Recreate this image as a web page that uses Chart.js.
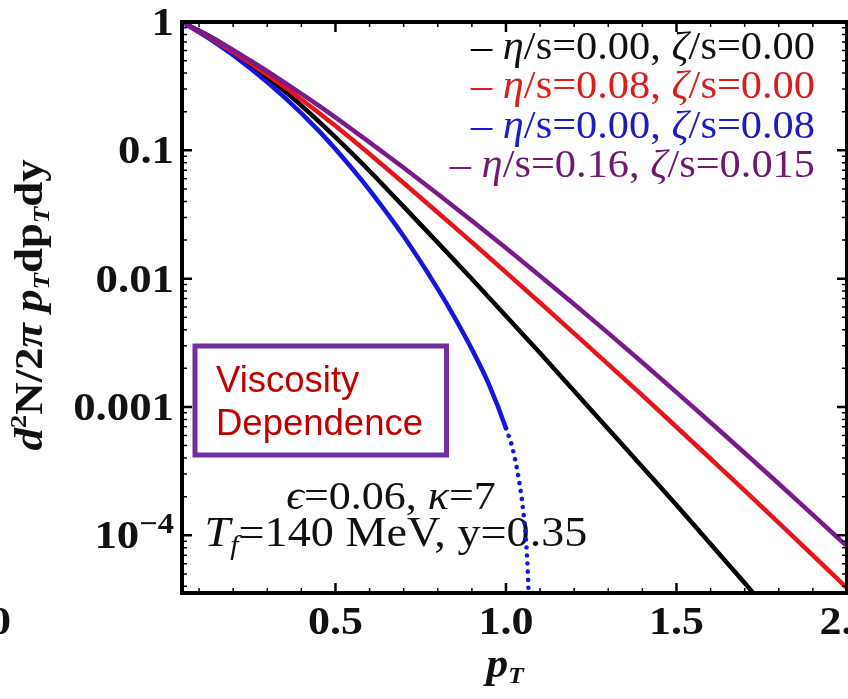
<!DOCTYPE html>
<html>
<head>
<meta charset="utf-8">
<script src="https://cdn.jsdelivr.net/npm/chart.js@4.4.1/dist/chart.umd.min.js"></script>
<style>
  html, body { margin: 0; padding: 0; overflow: hidden; background: #fff; }
  #wrap { position: relative; width: 900px; height: 699px; }
</style>
</head>
<body>
<div id="wrap"><canvas id="chart" width="900" height="699"></canvas></div>
<script>
const ptMain = [0.05, 0.15, 0.25, 0.35, 0.45, 0.55, 0.6, 0.7, 0.8, 0.9, 1.0, 1.1, 1.2, 1.3, 1.4, 1.5, 1.6, 1.7, 1.8, 1.9, 2.0];
const ptBlack = [0.05, 0.15, 0.25, 0.35, 0.45, 0.55, 0.6, 0.7, 0.8, 0.9, 1.0, 1.1, 1.2, 1.3, 1.4, 1.5, 1.6, 1.7, 1.75];
const ptBlue = [0.05, 0.15, 0.25, 0.35, 0.45, 0.55, 0.6, 0.7, 0.8, 0.85, 0.9, 0.95, 1.0, 1.02, 1.04, 1.05, 1.06, 1.065, 1.07];

// spectra d2N/2pi pT dpT dy
const specIdeal = [1.0, 0.724, 0.474, 0.291, 0.169, 0.0939, 0.0690, 0.0364, 0.0191, 0.00993, 0.00511, 0.00263, 0.00133, 0.000673, 0.000340, 0.000172, 8.54e-5, 4.24e-5, 2.96e-5];
const specShear = [1.0, 0.708, 0.479, 0.313, 0.197, 0.121, 0.0935, 0.0556, 0.0328, 0.0192, 0.0112, 0.00649, 0.00374, 0.00215, 0.00123, 0.000698, 0.000395, 0.000223, 0.000125, 6.98e-5, 3.88e-5];
const specBulk = [1.0, 0.684, 0.437, 0.260, 0.143, 0.0716, 0.0490, 0.0214, 0.00832, 0.00495, 0.00282, 0.00150, 0.000684, 0.000468, 0.000251, 0.000159, 8.32e-5, 4.47e-5, 1.58e-5];
const specBoth = [1.0, 0.724, 0.501, 0.339, 0.224, 0.1445, 0.1153, 0.0731, 0.0457, 0.0283, 0.0173, 0.0105, 0.00631, 0.00376, 0.00222, 0.00130, 0.000757, 0.000438, 0.000252, 0.000144, 8.22e-5];

const seriesLabels = ['η/s=0.00, ζ/s=0.00', 'η/s=0.08, ζ/s=0.00', 'η/s=0.00, ζ/s=0.08', 'η/s=0.16, ζ/s=0.015'];
const lineColors = ['#000000', '#e8141c', '#1515e0', '#781c8c'];
const textColors = ['#111111', '#d91e1e', '#1c1cc4', '#6e1a6e'];

const xTickValues = [0.5, 1.0, 1.5, 2.0];
const xTickLabels = ['0.5', '1.0', '1.5', '2.0'];
const yTickValues = [1, 0.1, 0.01, 0.001, 0.0001];
const yTickLabels = ['1', '0.1', '0.01', '0.001', '10^−4'];

const SERIF = '"Liberation Serif", "Times New Roman", serif';
const SANS = '"Liberation Sans", Arial, sans-serif';

function pts(xs, ys) {
  return ys.map((v, i) => ({ x: xs[i], y: v }));
}

// draw a row of differently styled text pieces: [text, font, dy, color]
function drawRuns(ctx, parts, x, y, align, sx) {
  let w = 0;
  parts.forEach(p => { ctx.font = p[1]; w += ctx.measureText(p[0]).width; });
  ctx.save();
  ctx.translate(x, y);
  ctx.scale(sx || 1, 1);
  ctx.textAlign = 'left';
  ctx.textBaseline = 'alphabetic';
  let cx = align === 'right' ? -w : align === 'center' ? -w / 2 : 0;
  parts.forEach(p => {
    ctx.font = p[1];
    if (p[3]) ctx.fillStyle = p[3];
    ctx.fillText(p[0], cx, p[2] || 0);
    cx += ctx.measureText(p[0]).width;
  });
  ctx.restore();
}

// greek letters italic, everything else upright
function greekRuns(str, size, color) {
  return str.split(/([ηζϵκ])/).filter(s => s).map(s =>
    [s, (/[ηζϵκ]/.test(s) ? 'italic ' : '') + size + 'px ' + SERIF, 0, color]);
}

const frame = {
  id: 'frame',
  beforeDatasetsDraw(chart) {
    const ctx = chart.ctx;
    drawRuns(ctx, greekRuns('ϵ=0.06, κ=7', 40, '#111'), 391, 509, 'center', 1.1);
    drawRuns(ctx, [
      ['T', 'italic 42px ' + SERIF, 0, '#111'],
      ['f', 'italic 27px ' + SERIF, 8, '#111'],
      ['=140 MeV, y=0.35', '42px ' + SERIF, 0, '#111']
    ], 396, 546, 'center', 1.1);
  },
  afterDatasetsDraw(chart) {
    const { ctx, chartArea: a, scales: { x, y } } = chart;
    ctx.save();
    ctx.strokeStyle = '#000';
    // minor / major ticks pointing inward on all four sides
    for (let k = 1; k <= 20; k++) {
      const v = k / 10;
      if (v < x.min || v > x.max) continue;
      const px = x.getPixelForValue(v);
      const major = k % 5 === 0;
      ctx.lineWidth = major ? 2.5 : 1.5;
      const len = major ? 10 : 5;
      ctx.beginPath();
      ctx.moveTo(px, a.bottom); ctx.lineTo(px, a.bottom - len);
      ctx.moveTo(px, a.top); ctx.lineTo(px, a.top + len);
      ctx.stroke();
    }
    for (let e = -5; e <= 0; e++) {
      for (let m = 1; m <= 9; m++) {
        const v = m * Math.pow(10, e);
        if (v < y.min || v > y.max) continue;
        const py = y.getPixelForValue(v);
        const major = m === 1;
        ctx.lineWidth = major ? 2.5 : 1.5;
        const len = major ? 10 : 5;
        ctx.beginPath();
        ctx.moveTo(a.left, py); ctx.lineTo(a.left + len, py);
        ctx.moveTo(a.right, py); ctx.lineTo(a.right - len, py);
        ctx.stroke();
      }
    }
    ctx.lineWidth = 4;
    ctx.strokeRect(a.left, a.top, a.right - a.left, a.bottom - a.top);
    ctx.restore();
  },
  afterDraw(chart) {
    const { ctx, scales: { x, y } } = chart;
    const tickFont = 'bold 40px ' + SERIF;

    // y tick labels
    yTickValues.forEach((v, i) => {
      const py = y.getPixelForValue(v);
      const lab = yTickLabels[i];
      if (lab.includes('^')) {
        const [b, s] = lab.split('^');
        drawRuns(ctx, [[b, tickFont, 0, '#111'], [s, 'bold 29px ' + SERIF, -15, '#111']], 174, py + 13, 'right', 1.12);
      } else {
        drawRuns(ctx, [[lab, tickFont, 0, '#111']], 174, py + 13, 'right', 1.12);
      }
    });
    // x tick labels
    xTickValues.forEach((v, i) => {
      drawRuns(ctx, [[xTickLabels[i], tickFont, 0, '#111']], x.getPixelForValue(v), 634, 'center', 1.1);
    });
    // piece of the neighbouring panel's tick label
    drawRuns(ctx, [['0', tickFont, 0, '#111']], 11, 634, 'right', 1.1);

    // axis titles
    drawRuns(ctx, [
      ['p', 'bold italic 40px ' + SERIF, 0, '#111'],
      ['T', 'bold italic 23px ' + SERIF, 6, '#111']
    ], 505, 677, 'center', 1.1);
    ctx.save();
    ctx.translate(42, 305);
    ctx.rotate(-Math.PI / 2);
    drawRuns(ctx, [
      ['d', 'bold italic 40px ' + SERIF, 0, '#111'],
      ['2', 'bold 24px ' + SERIF, -16, '#111'],
      ['N/2', 'bold 40px ' + SERIF, 0, '#111'],
      ['π', 'bold italic 40px ' + SERIF, 0, '#111'],
      [' p', 'bold italic 40px ' + SERIF, 0, '#111'],
      ['T', 'bold italic 24px ' + SERIF, 7, '#111'],
      ['dp', 'bold 40px ' + SERIF, 0, '#111'],
      ['T', 'bold italic 24px ' + SERIF, 7, '#111'],
      ['dy', 'bold 40px ' + SERIF, 0, '#111']
    ], 0, 0, 'center', 1.12);
    ctx.restore();

    // legend
    chart.data.datasets.forEach((ds, i) => {
      const parts = [['– ', '40px ' + SERIF, 0, lineColors[i]]].concat(greekRuns(ds.label, 40, textColors[i]));
      drawRuns(ctx, parts, 815, 59 + i * 39.3, 'right', 1.06);
    });

    // overlay box
    ctx.save();
    ctx.strokeStyle = '#7030a0';
    ctx.lineWidth = 5;
    ctx.strokeRect(195, 346, 251.5, 109);
    ctx.fillStyle = '#c00000';
    ctx.font = '36.5px ' + SANS;
    ctx.textAlign = 'left';
    ctx.fillText('Viscosity', 216, 392);
    ctx.fillText('Dependence', 216, 435);
    ctx.restore();
  }
};

const common = { pointRadius: 0, borderWidth: 4.5, fill: false, cubicInterpolationMode: 'monotone', clip: 0 };

new Chart(document.getElementById('chart'), {
  type: 'line',
  data: {
    datasets: [
      Object.assign({ label: seriesLabels[0], data: pts(ptBlack, specIdeal), borderColor: lineColors[0], order: 2 }, common),
      Object.assign({ label: seriesLabels[1], data: pts(ptMain, specShear), borderColor: lineColors[1], order: 1 }, common),
      Object.assign({ label: seriesLabels[2], data: pts(ptBlue, specBulk), borderColor: lineColors[2], order: 3,
        borderCapStyle: 'round',
        segment: { borderDash: c => (c.p0.parsed.x >= 0.999 ? [0.1, 8] : undefined) } }, common),
      Object.assign({ label: seriesLabels[3], data: pts(ptMain, specBoth), borderColor: lineColors[3], order: 0 }, common)
    ]
  },
  options: {
    responsive: false,
    animation: false,
    devicePixelRatio: 1,
    layout: { padding: { top: 22, right: 53, bottom: 0, left: 0 } },
    plugins: { legend: { display: false }, tooltip: { enabled: false } },
    scales: {
      x: {
        type: 'linear', min: 0.05, max: 2.0,
        grid: { display: false }, border: { display: false },
        ticks: { display: false },
        afterFit: s => { s.height = 106; }
      },
      y: {
        type: 'logarithmic', min: 3.55e-5, max: 1,
        grid: { display: false }, border: { display: false },
        ticks: { display: false },
        afterFit: s => { s.width = 182; }
      }
    }
  },
  plugins: [frame]
});
</script>
</body>
</html>
